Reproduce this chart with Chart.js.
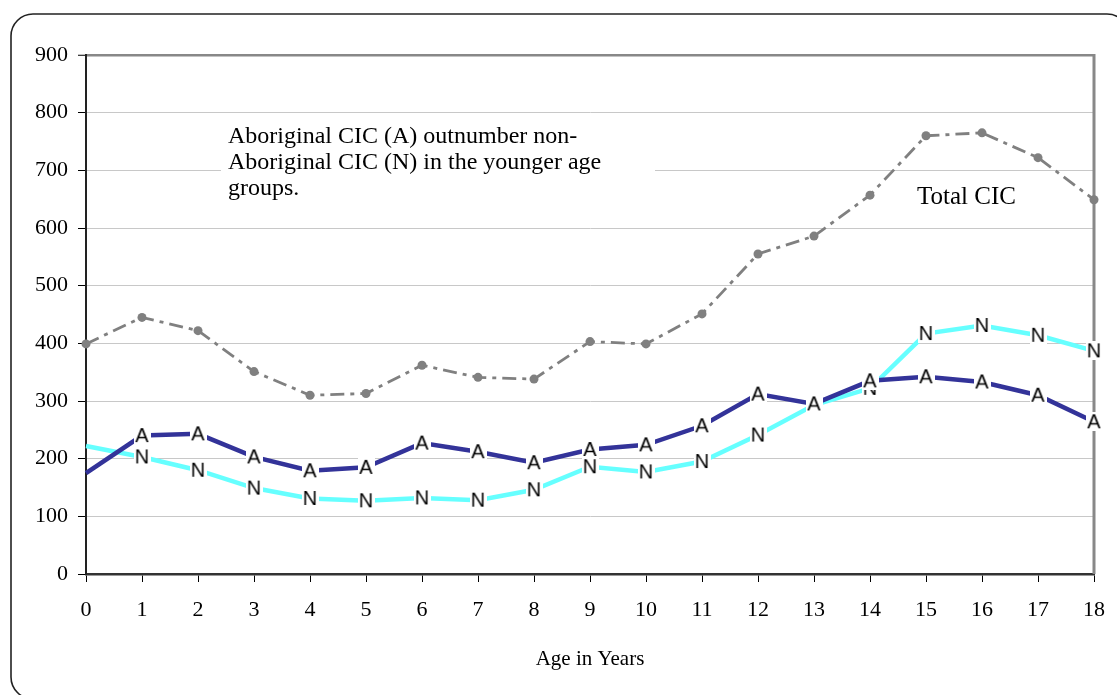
<!DOCTYPE html>
<html>
<head>
<meta charset="utf-8">
<script src="https://cdn.jsdelivr.net/npm/chart.js@4.4.0/dist/chart.umd.min.js"></script>
<style>
  html, body { margin: 0; padding: 0; background: #fff; }
  #wrap { width: 1117px; height: 695px; position: relative; }
</style>
</head>
<body>
<div id="wrap"><canvas id="c" width="1117" height="695"></canvas></div>
<script>
// ---- data ----
const ages = ['0','1','2','3','4','5','6','7','8','9','10','11','12','13','14','15','16','17','18'];
const aboriginal    = [175, 240, 243, 203, 179, 185, 227, 212, 193, 216, 224, 257, 312, 295, 335, 342, 333, 310, 264];
const nonAboriginal = [222, 203, 180, 149, 131, 127, 132, 128, 146, 186, 177, 195, 241, 293, 322, 417, 431, 414, 387];
const totalCIC      = [399, 445, 422, 351, 310, 313, 362, 341, 338, 403, 399, 451, 555, 586, 657, 760, 765, 722, 649];
const yTicks = [0, 100, 200, 300, 400, 500, 600, 700, 800, 900];
const noteLines = ['Aboriginal CIC (A) outnumber non-', 'Aboriginal CIC (N) in the younger age', 'groups.'];
const totalLabel = 'Total CIC';
const xTitle = 'Age in Years';

function letterMarker(ch) {
  const c = document.createElement('canvas');
  c.width = 17; c.height = 19;
  const g = c.getContext('2d');
  g.fillStyle = '#fff';
  g.fillRect(0, 0, c.width, c.height);
  g.fillStyle = '#000';
  g.font = '20px "Liberation Sans", Arial, sans-serif';
  g.textAlign = 'center';
  g.textBaseline = 'middle';
  g.fillText(ch, c.width / 2, c.height / 2 + 1);
  return c;
}
const markA = letterMarker('A');
const markN = letterMarker('N');

const serif = '"Liberation Serif", "Times New Roman", serif';
const hideFirst = ctx => (ctx.dataIndex === 0 ? 0 : 8);

const framePlugin = {
  id: 'frame',
  beforeDraw(chart) {
    const ctx = chart.ctx;
    ctx.save();
    ctx.fillStyle = '#fff';
    ctx.fillRect(0, 0, chart.width, chart.height);
    ctx.strokeStyle = '#222';
    ctx.lineWidth = 1.6;
    ctx.beginPath();
    ctx.roundRect(11, 14, 1118, 685, 22);
    ctx.stroke();
    ctx.restore();
  },
  beforeDatasetsDraw(chart) {
    const ctx = chart.ctx, a = chart.chartArea;
    ctx.save();
    ctx.strokeStyle = '#888';
    ctx.lineWidth = 3;
    ctx.beginPath();
    ctx.moveTo(a.right, a.top - 1);
    ctx.lineTo(a.right, a.bottom);
    ctx.stroke();
    ctx.fillStyle = '#fff';
    ctx.fillRect(221, 118, 434, 92);
    ctx.fillStyle = '#000';
    ctx.font = '24px ' + serif;
    ctx.textBaseline = 'alphabetic';
    ctx.textAlign = 'left';
    const bases = [143, 169, 195];
    noteLines.forEach((t, i) => ctx.fillText(t, 228, bases[i]));
    ctx.font = '25px ' + serif;
    ctx.fillText(totalLabel, 917, 204);
    ctx.restore();
  }
};

new Chart(document.getElementById('c'), {
  type: 'line',
  data: {
    labels: ages,
    datasets: [
      {
        label: 'Aboriginal CIC (A)',
        data: aboriginal,
        borderColor: '#333399',
        backgroundColor: '#333399',
        borderWidth: 4.5,
        pointStyle: markA,
        pointRadius: hideFirst,
        tension: 0,
        fill: false
      },
      {
        label: 'Non-Aboriginal CIC (N)',
        data: nonAboriginal,
        borderColor: '#66ffff',
        backgroundColor: '#66ffff',
        borderWidth: 4.5,
        pointStyle: markN,
        pointRadius: hideFirst,
        tension: 0,
        fill: false
      },
      {
        label: 'Total CIC',
        data: totalCIC,
        borderColor: '#808080',
        backgroundColor: '#808080',
        borderWidth: 2.8,
        borderDash: [14, 6, 4, 6],
        pointStyle: 'circle',
        pointRadius: 4.5,
        pointBorderWidth: 0,
        pointBackgroundColor: '#808080',
        tension: 0,
        fill: false
      }
    ]
  },
  options: {
    responsive: false,
    animation: false,
    clip: false,
    layout: { padding: { left: 0, right: 23, top: 55, bottom: 0 } },
    plugins: { legend: { display: false }, tooltip: { enabled: false } },
    scales: {
      x: {
        type: 'category',
        offset: false,
        grid: { drawOnChartArea: false, drawTicks: true, tickLength: 8, tickColor: '#000', tickWidth: 1 },
        border: { color: '#333', width: 2.5 },
        ticks: { color: '#000', font: { family: serif, size: 22 }, padding: 15, maxRotation: 0, autoSkip: false },
        title: { display: true, text: xTitle, color: '#000', font: { family: serif, size: 21 }, padding: { top: 0, bottom: 23 } },
        afterFit(s) { s.height = 121; s.paddingLeft = 0; s.paddingRight = 0; }
      },
      y: {
        min: 0, max: 900,
        afterBuildTicks(s) { s.ticks = yTicks.map(v => ({ value: v })); },
        grid: {
          drawTicks: true, tickLength: 8, tickColor: '#000', tickWidth: 1,
          color: ctx => ctx.tick && ctx.tick.value === 900 ? '#888' : (ctx.tick && ctx.tick.value === 0 ? '#333' : '#c8c8c8'),
          lineWidth: ctx => ctx.tick && ctx.tick.value === 900 ? 2.5 : 1
        },
        border: { color: '#222', width: 2 },
        ticks: { color: '#000', font: { family: serif, size: 22 }, padding: 10 },
        afterFit(s) { s.width = 86; s.paddingTop = 0; s.paddingBottom = 0; }
      }
    }
  },
  plugins: [framePlugin]
});
</script>
</body>
</html>
